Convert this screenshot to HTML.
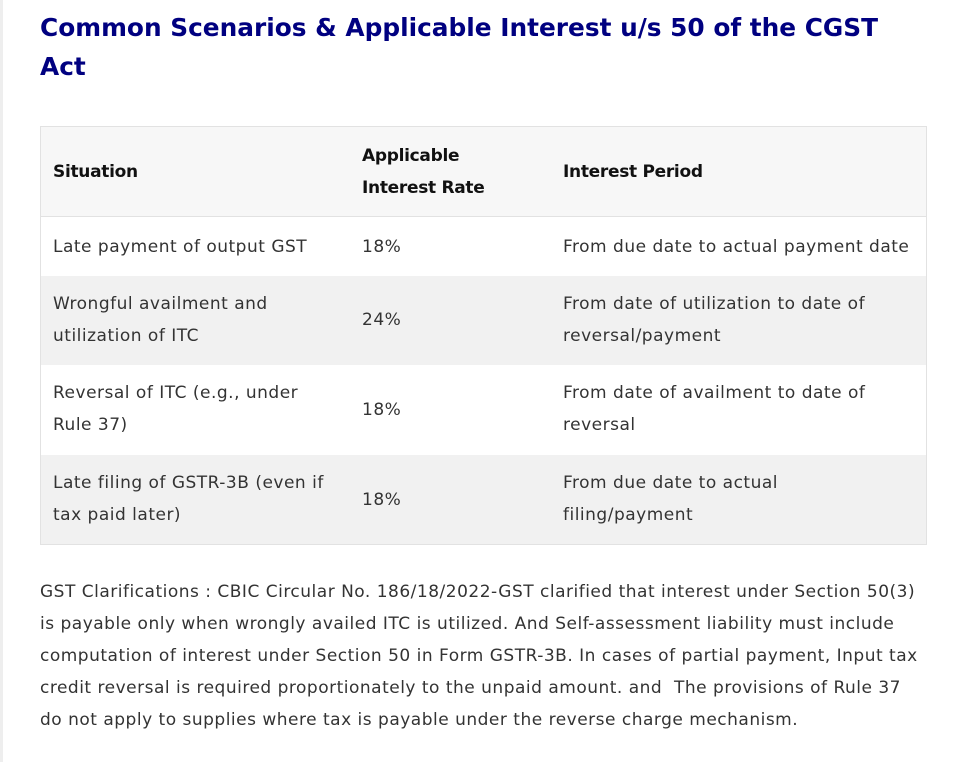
<!DOCTYPE html>
<html><head><meta charset="utf-8"><style>
*{margin:0;padding:0;box-sizing:border-box}
body{width:961px;height:762px;background:#fff;font-family:"DejaVu Sans","Liberation Sans",sans-serif;color:#333;position:relative;overflow:hidden}
.strip{position:absolute;left:0;top:0;width:3px;height:762px;background:#eee}
h1{position:absolute;left:40px;top:8px;width:920px;font-size:24.8px;line-height:39px;color:#000080;font-weight:bold;white-space:nowrap}
.tbl{position:absolute;left:40px;top:126px;width:887px;height:419px;border:1px solid #e2e2e2}
.row{position:absolute;left:0;width:885px}
.c{position:absolute;font-size:17px;line-height:32px;white-space:nowrap;letter-spacing:0.5px}
.h .c{font-weight:bold;color:#111;letter-spacing:-0.3px}
p{position:absolute;left:40px;top:576px;font-size:17px;line-height:32px;white-space:nowrap;letter-spacing:0.5px}
</style></head><body>
<div class="strip"></div>
<h1>Common Scenarios &amp; Applicable Interest u/s 50 of the CGST<br>Act</h1>
<div class="tbl">
<div class="row h" style="top:0;height:90px;background:#f7f7f7;border-bottom:1px solid #e2e2e2">
<div class="c" style="left:12px;top:29px">Situation</div>
<div class="c" style="left:321px;top:13px">Applicable<br>Interest Rate</div>
<div class="c" style="left:522px;top:29px">Interest Period</div>
</div>
<div class="row" style="top:90px;height:59px;background:#fff">
<div class="c" style="left:12px;top:14px">Late payment of output GST</div>
<div class="c" style="left:321px;top:14px">18%</div>
<div class="c" style="left:522px;top:14px">From due date to actual payment date</div>
</div>
<div class="row" style="top:149px;height:89px;background:#f1f1f1">
<div class="c" style="left:12px;top:12px">Wrongful availment and<br>utilization of ITC</div>
<div class="c" style="left:321px;top:28px">24%</div>
<div class="c" style="left:522px;top:12px">From date of utilization to date of<br>reversal/payment</div>
</div>
<div class="row" style="top:238px;height:90px;background:#fff">
<div class="c" style="left:12px;top:12px">Reversal of ITC (e.g., under<br>Rule 37)</div>
<div class="c" style="left:321px;top:29px">18%</div>
<div class="c" style="left:522px;top:12px">From date of availment to date of<br>reversal</div>
</div>
<div class="row" style="top:328px;height:89px;background:#f1f1f1">
<div class="c" style="left:12px;top:12px">Late filing of GSTR-3B (even if<br>tax paid later)</div>
<div class="c" style="left:321px;top:29px">18%</div>
<div class="c" style="left:522px;top:12px">From due date to actual<br>filing/payment</div>
</div>
</div>
<p>GST Clarifications : CBIC Circular No. 186/18/2022-GST clarified that interest under Section 50(3)<br>is payable only when wrongly availed ITC is utilized. And Self-assessment liability must include<br>computation of interest under Section 50 in Form GSTR-3B. In cases of partial payment, Input tax<br>credit reversal is required proportionately to the unpaid amount. and &nbsp;The provisions of Rule 37<br>do not apply to supplies where tax is payable under the reverse charge mechanism.</p>
</body></html>
